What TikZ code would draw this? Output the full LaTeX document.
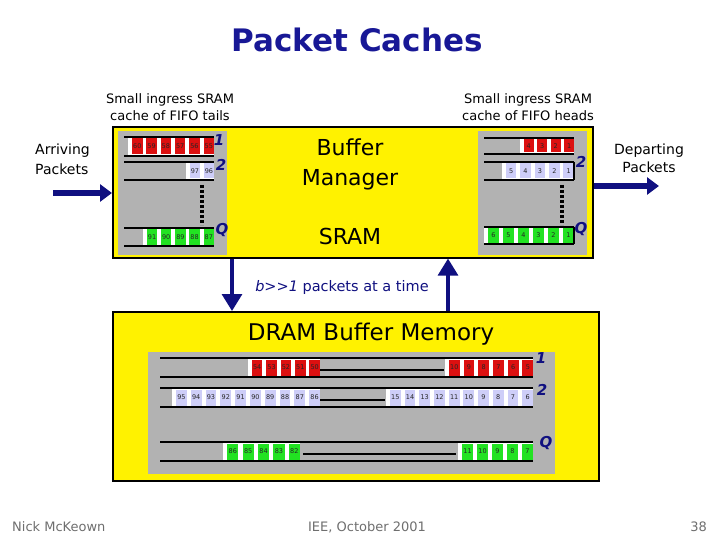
\documentclass[tikz,border=0pt]{standalone}
\usepackage{fontspec}
\setmainfont{DejaVu Sans}
\usetikzlibrary{arrows.meta}
\definecolor{navy}{RGB}{16,16,128}
\definecolor{titleblue}{RGB}{24,24,150}
\definecolor{panelgray}{RGB}{178,178,178}
\definecolor{pktred}{RGB}{220,16,16}
\definecolor{pktlav}{RGB}{206,206,248}
\definecolor{pktgreen}{RGB}{34,226,34}
\definecolor{footgray}{RGB}{110,110,110}
% #1 name prefix, #2 x0, #3 ytop, #4 ybot, #5 cell width, #6 colour, #7 list
\newcommand\pktrow[7]{%
  \foreach \n [count=\i from 0] in {#7}{%
    \pgfmathsetmacro\xa{#2+\i*#5}%
    \fill[white] (\xa,#3) rectangle ({\xa+#5},#4);
    \fill[#6] ({\xa+0.27*#5},{#3+1.5}) rectangle ({\xa+#5},{#4-1.5});
    \node[pnum] (#1-\i) at ({\xa+0.635*#5},{(#3+#4)/2}) {\n};
  }}
% #1 x1, #2 x2, #3 ytop, #4 ybot
\newcommand\rowlines[4]{%
  \draw[rowline] (#1,#3) -- (#2,#3);
  \draw[rowline] (#1,#4) -- (#2,#4);}
\begin{document}
\begin{tikzpicture}[x=1pt,y=-1pt,
  box/.style={draw=black, line width=1.6pt, fill=yellow, inner sep=0pt, anchor=north west},
  panel/.style={fill=panelgray},
  pnum/.style={inner sep=0pt, text=black!85, font=\fontsize{6.5}{7}\selectfont},
  rowline/.style={line width=2.8pt},
  midline/.style={line width=2.8pt},
  dotline/.style={line width=3.5pt, dash pattern=on 3pt off 2pt},
  qlbl/.style={text=navy, inner sep=0pt, font=\fontsize{15}{15}\selectfont\bfseries\itshape},
  harrow/.style={draw=navy, line width=6pt, -{Triangle[length=12pt,width=17pt]}},
  varrow/.style={draw=navy, line width=3.2pt, -{Triangle[length=17pt,width=20pt]}},
  caption/.style={align=center, inner sep=0pt, font=\fontsize{13}{17}\selectfont},
  big/.style={align=center, inner sep=0pt, font=\fontsize{22}{30}\selectfont},
  foot/.style={text=footgray, inner sep=0pt, font=\fontsize{13}{13}\selectfont}
]
\useasboundingbox (0,0) rectangle (720,540);

% title
\node[text=titleblue, font=\fontsize{31}{33}\selectfont\bfseries] (title) at (357,40) {Packet Caches};

% captions
\node[caption] (captl) at (170,107) {Small ingress SRAM\\cache of FIFO tails};
\node[caption] (captr) at (528,107) {Small ingress SRAM\\cache of FIFO heads};
\node[align=left, inner sep=0pt, anchor=west, font=\fontsize{14}{20}\selectfont] (arrtxt) at (35,159) {Arriving\\Packets};
\node[align=center, inner sep=0pt, font=\fontsize{14}{18}\selectfont] (deptxt) at (649,158) {Departing\\Packets};

% SRAM box
\node[box, minimum width=480pt, minimum height=131pt] (sram) at (112,126) {};
\fill[panel] (118,131) rectangle (227,255);
\fill[panel] (478,131) rectangle (587,255);
\node[big] (bm) at (350,164) {Buffer\\Manager};
\node[big] (sramtxt) at (350,236) {SRAM};

% left (tails) rows
\pktrow{lt1}{128.2}{137}{156}{14.3}{pktred}{60,59,58,57,56,55}
\rowlines{124}{214}{137}{156}
\pktrow{lt2}{186}{162}{180}{14}{pktlav}{97,96}
\rowlines{124}{214}{162}{180}
\pktrow{ltq}{143}{228}{246}{14.2}{pktgreen}{91,90,89,88,87}
\rowlines{124}{214}{228}{246}
\draw[dotline] (202,185) -- (202,225);
\node[qlbl] (l1) at (219,140) {1};
\node[qlbl] (l2) at (221,165) {2};
\node[qlbl] (lq) at (222,230) {Q};

% right (heads) rows
\pktrow{rh1}{520}{138}{154}{13.5}{pktred}{4,3,2,1}
\rowlines{484}{574}{138}{154}
\pktrow{rh2}{502}{162}{180}{14.4}{pktlav}{5,4,3,2,1}
\rowlines{484}{574}{162}{180}
\draw[rowline] (574,162) -- (574,180);
\pktrow{rhq}{484}{227}{244}{15}{pktgreen}{6,5,4,3,2,1}
\rowlines{484}{574}{227}{244}
\draw[rowline] (574,227) -- (574,244);
\draw[dotline] (562,185) -- (562,225);
\node[qlbl] (r2) at (581,162) {2};
\node[qlbl] (rq) at (581,229) {Q};

% arriving / departing arrows
\coordinate (arr) at (53,193);
\coordinate (dep) at (659,186);
\draw[harrow] (arr) -- (sram.west |- arr);
\draw[harrow] (sram.east |- dep) -- (dep);

% DRAM box
\node[box, minimum width=486pt, minimum height=169pt] (dram) at (112,311) {};
\fill[panel] (148,352) rectangle (555,474);
\node[big, font=\fontsize{23}{30}\selectfont] (dramtxt) at (371,334) {DRAM Buffer Memory};

% transfer arrows
\coordinate (dn) at (232,0);
\coordinate (up) at (448,0);
\draw[varrow] (dn |- sram.south) -- (dn |- dram.north);
\draw[varrow] (up |- dram.north) -- (up |- sram.south);
\node[text=navy, inner sep=0pt, font=\fontsize{14.5}{14.5}\selectfont] (btxt) at (342,287) {\textit{b>{}>1} packets at a time};

% DRAM rows
\pktrow{d1a}{248}{358}{377}{14.4}{pktred}{54,53,52,51,50}
\pktrow{d1b}{445}{358}{377}{14.7}{pktred}{10,9,8,7,6,5}
\rowlines{160}{533}{358}{377}
\draw[midline] (320,370) -- (444,370);
\pktrow{d2a}{172}{388}{407}{14.8}{pktlav}{95,94,93,92,91,90,89,88,87,86}
\pktrow{d2b}{386}{388}{407}{14.7}{pktlav}{15,14,13,12,11,10,9,8,7,6}
\rowlines{160}{533}{388}{407}
\draw[midline] (320,400) -- (385,400);
\pktrow{dqa}{223}{442}{461}{15.4}{pktgreen}{86,85,84,83,82}
\pktrow{dqb}{458}{442}{461}{15}{pktgreen}{11,10,9,8,7}
\rowlines{160}{533}{442}{461}
\draw[midline] (303,454) -- (456,454);
\node[qlbl] (d1) at (541,358) {1};
\node[qlbl] (d2) at (542,390) {2};
\node[qlbl] (dq) at (546,443) {Q};

% footer
\node[foot, anchor=west] (author) at (12,527) {Nick McKeown};
\node[foot] (venue) at (367,527) {IEE, October 2001};
\node[foot, anchor=east] (page) at (707,527) {38};
\end{tikzpicture}
\end{document}
